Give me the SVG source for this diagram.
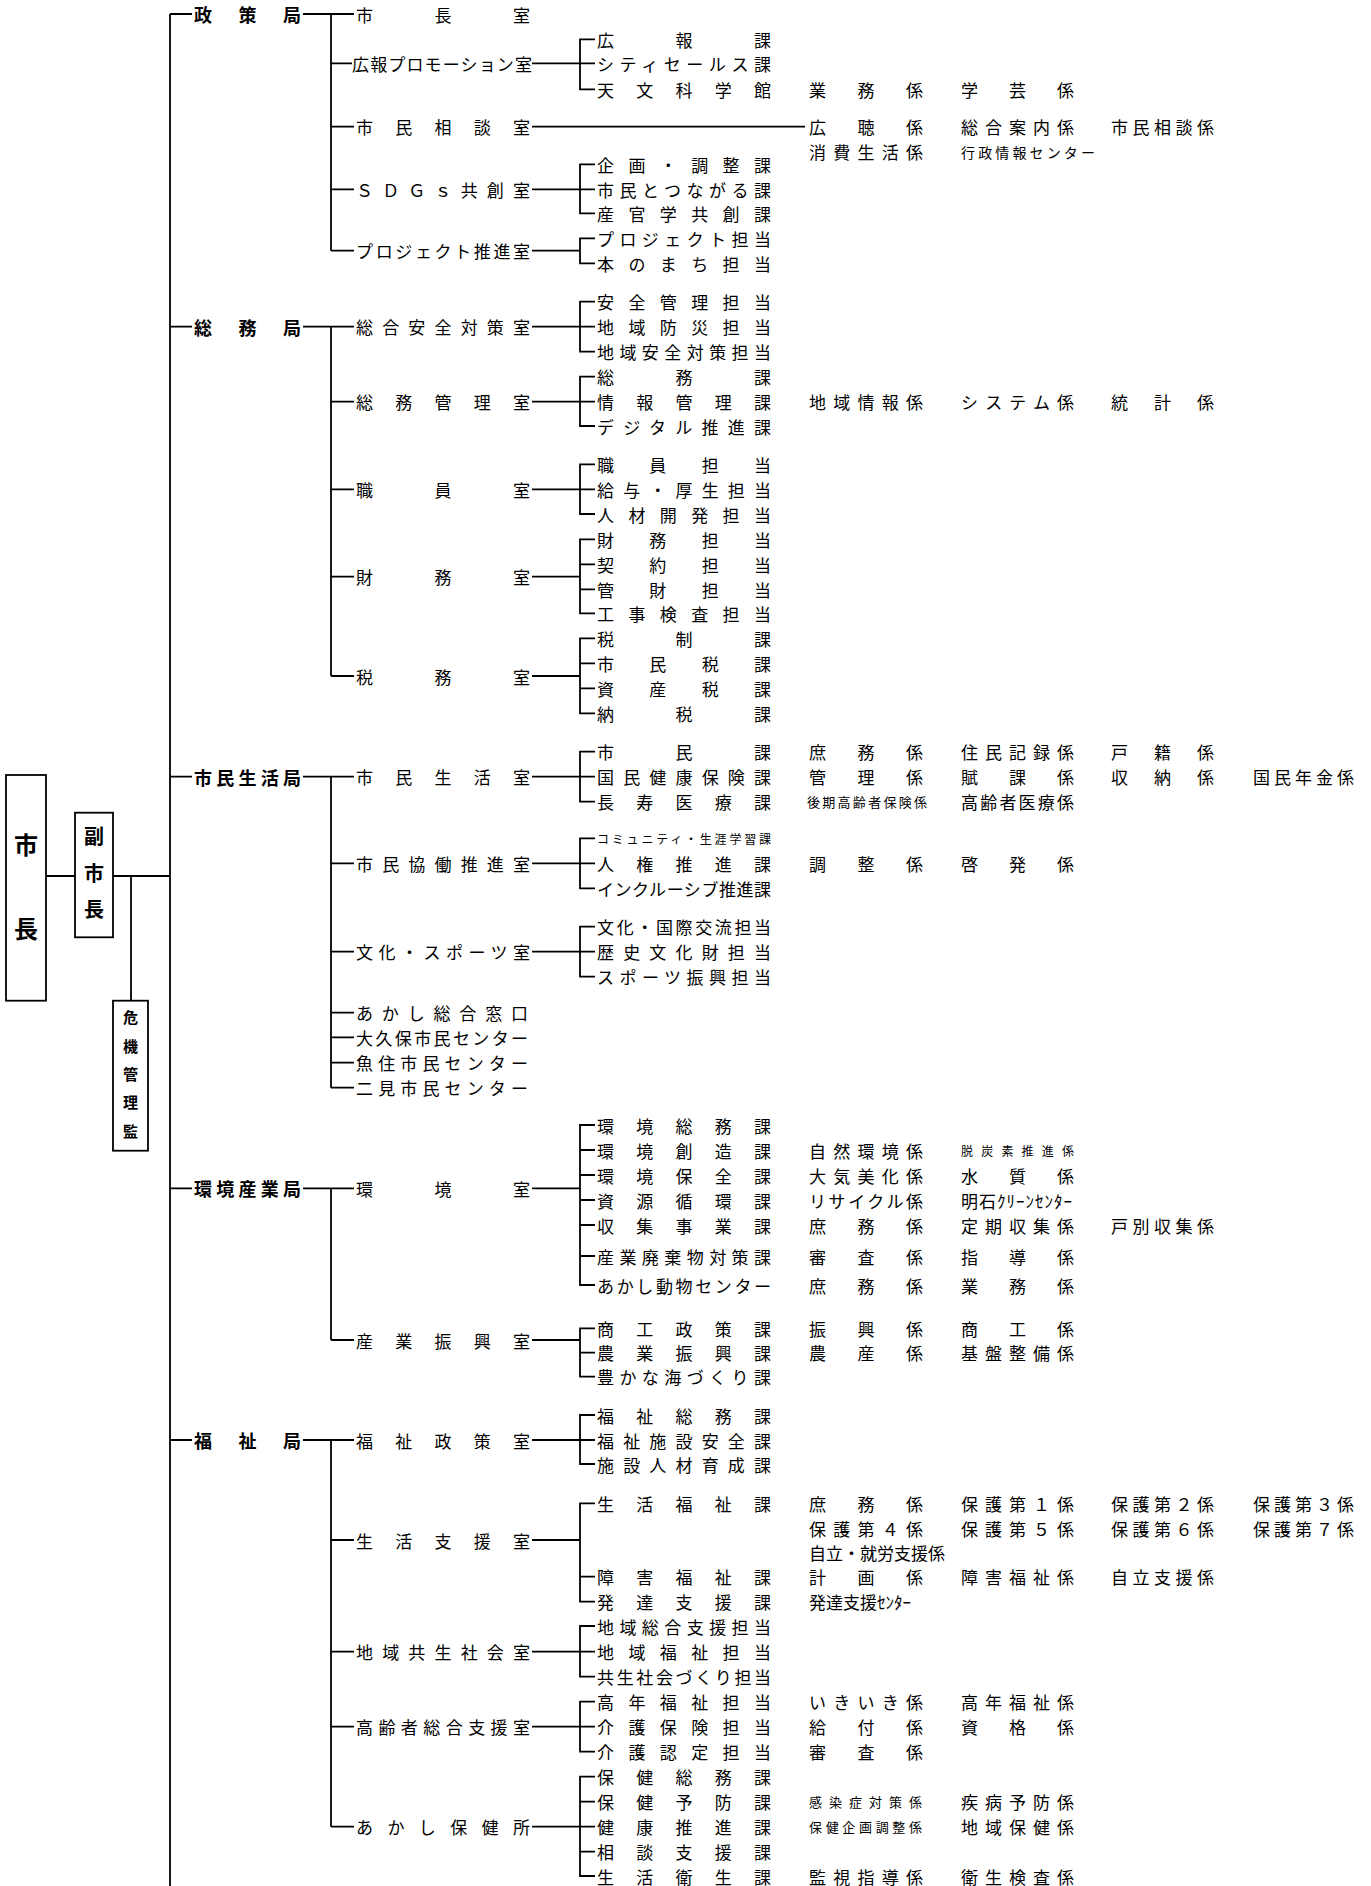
<svg xmlns="http://www.w3.org/2000/svg" width="1371" height="1886" viewBox="0 0 1371 1886">
<style>
text{font-family:"Noto Sans CJK JP","Noto Sans",sans-serif;fill:#000;dominant-baseline:central}
.b1{font-size:18px;font-weight:bold}
.t{font-size:17px}
.s14{font-size:14px}
.s13{font-size:13px}
.s12{font-size:12px}
.bx{font-weight:bold;text-anchor:middle}
.ln{stroke:#000;stroke-width:1.8;fill:none}
.box{fill:#fff;stroke:#000;stroke-width:1.8}
</style>
<rect width="1371" height="1886" fill="#fff"/>
<g id="connectors" class="ln">
<path d="M170,14V1886M170,14H192M170,326.7H192M170,776.7H192M170,1188.3H192M170,1440H192"/>
<path d="M46,876H75M113,876H170M131,876V1000.7"/>
<path d="M303,14H354M331,14V250.7M331,63.3H352M331,126.7H354M331,189.3H354M331,250.7H354"/>
<path d="M303,326.7H354M331,326.7V676M331,401.7H354M331,489.3H354M331,576.7H354M331,676H354"/>
<path d="M303,776.7H354M331,776.7V1087.7M331,863.3H354M331,951.7H354M331,1012.7H354M331,1037.3H354M331,1062.7H354M331,1087.7H354"/>
<path d="M303,1188.3H354M331,1188.3V1340M331,1340H354"/>
<path d="M303,1440H354M331,1440V1826.7M331,1540H354M331,1651.7H354M331,1726.7H354M331,1826.7H354"/>
<path d="M532,63.3H595M595,39.3H580V89.3H595"/>
<path d="M532,126.7H805"/>
<path d="M532,189.3H595M595,164.3H580V213.3H595"/>
<path d="M532,250.7H580M595,238.3H580V263.3H595"/>
<path d="M532,326.7H595M595,301.7H580V351.7H595"/>
<path d="M532,401.7H595M595,376.7H580V426H595"/>
<path d="M532,489.3H595M595,464.3H580V514H595"/>
<path d="M532,576.7H580M595,539.3H580V613.3H595M580,564.3H595M580,589.3H595"/>
<path d="M532,676H580M595,638.3H580V713.3H595M580,663.3H595M580,688.3H595"/>
<path d="M532,776.7H595M595,751.7H580V801.7H595"/>
<path d="M532,863.3H595M595,838.3H580V888.3H595"/>
<path d="M532,951.7H595M595,926.7H580V976.7H595"/>
<path d="M532,1188.3H580M595,1125H580V1285H595M580,1150H595M580,1175H595M580,1200H595M580,1225H595M580,1256H595"/>
<path d="M532,1340H580M595,1328.3H580V1376.7H595M580,1352.7H595"/>
<path d="M532,1440H595M595,1415H580V1464H595"/>
<path d="M532,1540H580M595,1503.3H580V1601.7H595M580,1576.7H595"/>
<path d="M532,1651.7H595M595,1626H580V1676.7H595"/>
<path d="M532,1726.7H595M595,1701.7H580V1751.7H595"/>
<path d="M532,1826.7H595M595,1776.7H580V1876H595M580,1801.7H595M580,1851.7H595"/>
</g>
<g id="mayor"><rect class="box" x="6" y="775" width="40" height="225.7"/><text class="bx" x="26" y="843" font-size="24">市</text><text class="bx" x="26" y="927" font-size="24">長</text></g>
<g id="vice-mayor"><rect class="box" x="75" y="812.7" width="38" height="124.6"/><text class="bx" x="94" y="835" font-size="20">副</text><text class="bx" x="94" y="872" font-size="20">市</text><text class="bx" x="94" y="908" font-size="20">長</text></g>
<g id="crisis"><rect class="box" x="113" y="1000.7" width="35" height="150"/><text class="bx" x="130.5" y="1016" font-size="15">危</text><text class="bx" x="130.5" y="1045" font-size="15">機</text><text class="bx" x="130.5" y="1073.3" font-size="15">管</text><text class="bx" x="130.5" y="1101.7" font-size="15">理</text><text class="bx" x="130.5" y="1130" font-size="15">監</text></g>
<g id="bureaus">
<g id="b-seisaku"><text class="b1" x="194" y="14" textLength="107" lengthAdjust="spacing">政策局</text></g>
<g id="b-somu"><text class="b1" x="194" y="326.7" textLength="107" lengthAdjust="spacing">総務局</text></g>
<g id="b-shimin"><text class="b1" x="194" y="776.7" textLength="107" lengthAdjust="spacing">市民生活局</text></g>
<g id="b-kankyo"><text class="b1" x="194" y="1188.3" textLength="107" lengthAdjust="spacing">環境産業局</text></g>
<g id="b-fukushi"><text class="b1" x="194" y="1440" textLength="107" lengthAdjust="spacing">福祉局</text></g>
</g>
<g id="offices" class="t">
<g id="o1"><text class="t" x="356" y="14" textLength="174">市長室</text></g>
<g id="o2"><text class="t" x="352" y="63.3" textLength="180">広報プロモーション室</text></g>
<g id="o3"><text class="t" x="356" y="126.7" textLength="174">市民相談室</text></g>
<g id="o4"><text class="t" x="356" y="189.3" textLength="174">ＳＤＧｓ共創室</text></g>
<g id="o5"><text class="t" x="356" y="250.7" textLength="174">プロジェクト推進室</text></g>
<g id="o6"><text class="t" x="356" y="326.7" textLength="174">総合安全対策室</text></g>
<g id="o7"><text class="t" x="356" y="401.7" textLength="174">総務管理室</text></g>
<g id="o8"><text class="t" x="356" y="489.3" textLength="174">職員室</text></g>
<g id="o9"><text class="t" x="356" y="576.7" textLength="174">財務室</text></g>
<g id="o10"><text class="t" x="356" y="676" textLength="174">税務室</text></g>
<g id="o11"><text class="t" x="356" y="776.7" textLength="174">市民生活室</text></g>
<g id="o12"><text class="t" x="356" y="863.3" textLength="174">市民協働推進室</text></g>
<g id="o13"><text class="t" x="356" y="951.7" textLength="174">文化・スポーツ室</text></g>
<g id="o14"><text class="t" x="356" y="1012.7" textLength="172">あかし総合窓口</text></g>
<g id="o15"><text class="t" x="356" y="1037.3" textLength="172">大久保市民センター</text></g>
<g id="o16"><text class="t" x="356" y="1062.7" textLength="172">魚住市民センター</text></g>
<g id="o17"><text class="t" x="356" y="1087.7" textLength="172">二見市民センター</text></g>
<g id="o18"><text class="t" x="356" y="1188.3" textLength="174">環境室</text></g>
<g id="o19"><text class="t" x="356" y="1340" textLength="174">産業振興室</text></g>
<g id="o20"><text class="t" x="356" y="1440" textLength="174">福祉政策室</text></g>
<g id="o21"><text class="t" x="356" y="1540" textLength="174">生活支援室</text></g>
<g id="o22"><text class="t" x="356" y="1651.7" textLength="174">地域共生社会室</text></g>
<g id="o23"><text class="t" x="356" y="1726.7" textLength="174">高齢者総合支援室</text></g>
<g id="o24"><text class="t" x="356" y="1826.7" textLength="174">あかし保健所</text></g>
</g>
<g id="sections">
<g id="s1"><text class="t" x="597" y="39.3" textLength="174">広報課</text></g>
<g id="s2"><text class="t" x="597" y="63.3" textLength="174">シティセールス課</text></g>
<g id="s3"><text class="t" x="597" y="89.3" textLength="174">天文科学館</text></g>
<g id="s4"><text class="t" x="597" y="164.3" textLength="174">企画・調整課</text></g>
<g id="s5"><text class="t" x="597" y="189.3" textLength="174">市民とつながる課</text></g>
<g id="s6"><text class="t" x="597" y="213.3" textLength="174">産官学共創課</text></g>
<g id="s7"><text class="t" x="597" y="238.3" textLength="174">プロジェクト担当</text></g>
<g id="s8"><text class="t" x="597" y="263.3" textLength="174">本のまち担当</text></g>
<g id="s9"><text class="t" x="597" y="301.7" textLength="174">安全管理担当</text></g>
<g id="s10"><text class="t" x="597" y="326.7" textLength="174">地域防災担当</text></g>
<g id="s11"><text class="t" x="597" y="351.7" textLength="174">地域安全対策担当</text></g>
<g id="s12"><text class="t" x="597" y="376.7" textLength="174">総務課</text></g>
<g id="s13"><text class="t" x="597" y="401.7" textLength="174">情報管理課</text></g>
<g id="s14"><text class="t" x="597" y="426" textLength="174">デジタル推進課</text></g>
<g id="s15"><text class="t" x="597" y="464.3" textLength="174">職員担当</text></g>
<g id="s16"><text class="t" x="597" y="489.3" textLength="174">給与・厚生担当</text></g>
<g id="s17"><text class="t" x="597" y="514" textLength="174">人材開発担当</text></g>
<g id="s18"><text class="t" x="597" y="539.3" textLength="174">財務担当</text></g>
<g id="s19"><text class="t" x="597" y="564.3" textLength="174">契約担当</text></g>
<g id="s20"><text class="t" x="597" y="589.3" textLength="174">管財担当</text></g>
<g id="s21"><text class="t" x="597" y="613.3" textLength="174">工事検査担当</text></g>
<g id="s22"><text class="t" x="597" y="638.3" textLength="174">税制課</text></g>
<g id="s23"><text class="t" x="597" y="663.3" textLength="174">市民税課</text></g>
<g id="s24"><text class="t" x="597" y="688.3" textLength="174">資産税課</text></g>
<g id="s25"><text class="t" x="597" y="713.3" textLength="174">納税課</text></g>
<g id="s26"><text class="t" x="597" y="751.7" textLength="174">市民課</text></g>
<g id="s27"><text class="t" x="597" y="776.7" textLength="174">国民健康保険課</text></g>
<g id="s28"><text class="t" x="597" y="801.7" textLength="174">長寿医療課</text></g>
<g id="s29"><text class="s12" x="597" y="838.3" textLength="174">コミュニティ・生涯学習課</text></g>
<g id="s30"><text class="t" x="597" y="863.3" textLength="174">人権推進課</text></g>
<g id="s31"><text class="t" x="597" y="888.3" textLength="174">インクルーシブ推進課</text></g>
<g id="s32"><text class="t" x="597" y="926.7" textLength="174">文化・国際交流担当</text></g>
<g id="s33"><text class="t" x="597" y="951.7" textLength="174">歴史文化財担当</text></g>
<g id="s34"><text class="t" x="597" y="976.7" textLength="174">スポーツ振興担当</text></g>
<g id="s35"><text class="t" x="597" y="1125" textLength="174">環境総務課</text></g>
<g id="s36"><text class="t" x="597" y="1150" textLength="174">環境創造課</text></g>
<g id="s37"><text class="t" x="597" y="1175" textLength="174">環境保全課</text></g>
<g id="s38"><text class="t" x="597" y="1200" textLength="174">資源循環課</text></g>
<g id="s39"><text class="t" x="597" y="1225" textLength="174">収集事業課</text></g>
<g id="s40"><text class="t" x="597" y="1256" textLength="174">産業廃棄物対策課</text></g>
<g id="s41"><text class="t" x="597" y="1285" textLength="174">あかし動物センター</text></g>
<g id="s42"><text class="t" x="597" y="1328.3" textLength="174">商工政策課</text></g>
<g id="s43"><text class="t" x="597" y="1352.7" textLength="174">農業振興課</text></g>
<g id="s44"><text class="t" x="597" y="1376.7" textLength="174">豊かな海づくり課</text></g>
<g id="s45"><text class="t" x="597" y="1415" textLength="174">福祉総務課</text></g>
<g id="s46"><text class="t" x="597" y="1440" textLength="174">福祉施設安全課</text></g>
<g id="s47"><text class="t" x="597" y="1464" textLength="174">施設人材育成課</text></g>
<g id="s48"><text class="t" x="597" y="1503.3" textLength="174">生活福祉課</text></g>
<g id="s49"><text class="t" x="597" y="1576.7" textLength="174">障害福祉課</text></g>
<g id="s50"><text class="t" x="597" y="1601.7" textLength="174">発達支援課</text></g>
<g id="s51"><text class="t" x="597" y="1626" textLength="174">地域総合支援担当</text></g>
<g id="s52"><text class="t" x="597" y="1651.7" textLength="174">地域福祉担当</text></g>
<g id="s53"><text class="t" x="597" y="1676.7" textLength="174">共生社会づくり担当</text></g>
<g id="s54"><text class="t" x="597" y="1701.7" textLength="174">高年福祉担当</text></g>
<g id="s55"><text class="t" x="597" y="1726.7" textLength="174">介護保険担当</text></g>
<g id="s56"><text class="t" x="597" y="1751.7" textLength="174">介護認定担当</text></g>
<g id="s57"><text class="t" x="597" y="1776.7" textLength="174">保健総務課</text></g>
<g id="s58"><text class="t" x="597" y="1801.7" textLength="174">保健予防課</text></g>
<g id="s59"><text class="t" x="597" y="1826.7" textLength="174">健康推進課</text></g>
<g id="s60"><text class="t" x="597" y="1851.7" textLength="174">相談支援課</text></g>
<g id="s61"><text class="t" x="597" y="1876" textLength="174">生活衛生課</text></g>
</g>
<g id="units">
<g id="u1"><text class="t" x="809" y="89.3" textLength="114">業務係</text><text class="t" x="961" y="89.3" textLength="113">学芸係</text></g>
<g id="u2"><text class="t" x="809" y="126.7" textLength="114">広聴係</text><text class="t" x="961" y="126.7" textLength="113">総合案内係</text><text class="t" x="1111" y="126.7" textLength="103">市民相談係</text></g>
<g id="u3"><text class="t" x="809" y="151.7" textLength="114">消費生活係</text><text class="s14" x="961" y="151.7" textLength="134">行政情報センター</text></g>
<g id="u4"><text class="t" x="809" y="401.7" textLength="114">地域情報係</text><text class="t" x="961" y="401.7" textLength="113">システム係</text><text class="t" x="1111" y="401.7" textLength="103">統計係</text></g>
<g id="u5"><text class="t" x="809" y="751.7" textLength="114">庶務係</text><text class="t" x="961" y="751.7" textLength="113">住民記録係</text><text class="t" x="1111" y="751.7" textLength="103">戸籍係</text></g>
<g id="u6"><text class="t" x="809" y="776.7" textLength="114">管理係</text><text class="t" x="961" y="776.7" textLength="113">賦課係</text><text class="t" x="1111" y="776.7" textLength="103">収納係</text><text class="t" x="1253" y="776.7" textLength="101">国民年金係</text></g>
<g id="u7"><text class="s13" x="807" y="801.7" textLength="120">後期高齢者保険係</text><text class="t" x="961" y="801.7" textLength="113">高齢者医療係</text></g>
<g id="u8"><text class="t" x="809" y="863.3" textLength="114">調整係</text><text class="t" x="961" y="863.3" textLength="113">啓発係</text></g>
<g id="u9"><text class="t" x="809" y="1150" textLength="114">自然環境係</text><text class="s12" x="961" y="1150" textLength="113">脱炭素推進係</text></g>
<g id="u10"><text class="t" x="809" y="1175" textLength="114">大気美化係</text><text class="t" x="961" y="1175" textLength="113">水質係</text></g>
<g id="u11"><text class="t" x="809" y="1200" textLength="114">リサイクル係</text><text class="t" x="961" y="1200" textLength="111">明石ｸﾘｰﾝｾﾝﾀｰ</text></g>
<g id="u12"><text class="t" x="809" y="1225" textLength="114">庶務係</text><text class="t" x="961" y="1225" textLength="113">定期収集係</text><text class="t" x="1111" y="1225" textLength="103">戸別収集係</text></g>
<g id="u13"><text class="t" x="809" y="1256" textLength="114">審査係</text><text class="t" x="961" y="1256" textLength="113">指導係</text></g>
<g id="u14"><text class="t" x="809" y="1285" textLength="114">庶務係</text><text class="t" x="961" y="1285" textLength="113">業務係</text></g>
<g id="u15"><text class="t" x="809" y="1328.3" textLength="114">振興係</text><text class="t" x="961" y="1328.3" textLength="113">商工係</text></g>
<g id="u16"><text class="t" x="809" y="1352.7" textLength="114">農産係</text><text class="t" x="961" y="1352.7" textLength="113">基盤整備係</text></g>
<g id="u17"><text class="t" x="809" y="1503.3" textLength="114">庶務係</text><text class="t" x="961" y="1503.3" textLength="113">保護第１係</text><text class="t" x="1111" y="1503.3" textLength="103">保護第２係</text><text class="t" x="1253" y="1503.3" textLength="101">保護第３係</text></g>
<g id="u18"><text class="t" x="809" y="1528.3" textLength="114">保護第４係</text><text class="t" x="961" y="1528.3" textLength="113">保護第５係</text><text class="t" x="1111" y="1528.3" textLength="103">保護第６係</text><text class="t" x="1253" y="1528.3" textLength="101">保護第７係</text></g>
<g id="u19"><text class="t" x="809" y="1552.7">自立・就労支援係</text></g>
<g id="u20"><text class="t" x="809" y="1576.7" textLength="114">計画係</text><text class="t" x="961" y="1576.7" textLength="113">障害福祉係</text><text class="t" x="1111" y="1576.7" textLength="103">自立支援係</text></g>
<g id="u21"><text class="t" x="809" y="1601.7">発達支援ｾﾝﾀｰ</text></g>
<g id="u22"><text class="t" x="809" y="1701.7" textLength="114">いきいき係</text><text class="t" x="961" y="1701.7" textLength="113">高年福祉係</text></g>
<g id="u23"><text class="t" x="809" y="1726.7" textLength="114">給付係</text><text class="t" x="961" y="1726.7" textLength="113">資格係</text></g>
<g id="u24"><text class="t" x="809" y="1751.7" textLength="114">審査係</text></g>
<g id="u25"><text class="s13" x="809" y="1801.7" textLength="113">感染症対策係</text><text class="t" x="961" y="1801.7" textLength="113">疾病予防係</text></g>
<g id="u26"><text class="s13" x="809" y="1826.7" textLength="113">保健企画調整係</text><text class="t" x="961" y="1826.7" textLength="113">地域保健係</text></g>
<g id="u27"><text class="t" x="809" y="1876" textLength="114">監視指導係</text><text class="t" x="961" y="1876" textLength="113">衛生検査係</text></g>
</g>
</svg>
